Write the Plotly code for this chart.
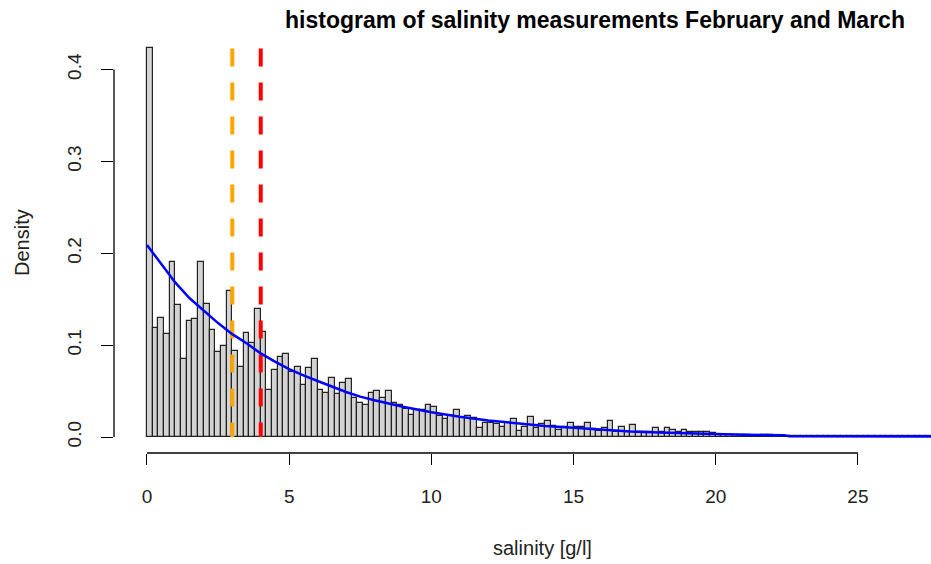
import plotly.graph_objects as go

# ---- data ----
bin_width = 0.2
density = [
    0.423, 0.119, 0.130, 0.112, 0.191, 0.144, 0.085, 0.126, 0.128, 0.191,
    0.145, 0.116, 0.093, 0.099, 0.159, 0.094, 0.076, 0.113, 0.102, 0.139,
    0.114, 0.051, 0.073, 0.087, 0.090, 0.071, 0.076, 0.057, 0.075, 0.085,
    0.051, 0.048, 0.064, 0.047, 0.059, 0.063, 0.042, 0.037, 0.035, 0.048,
    0.050, 0.043, 0.050, 0.037, 0.035, 0.031, 0.024, 0.029, 0.029, 0.035,
    0.033, 0.023, 0.020, 0.023, 0.029, 0.021, 0.023, 0.021, 0.010, 0.015,
    0.015, 0.014, 0.011, 0.015, 0.020, 0.007, 0.011, 0.022, 0.010, 0.014,
    0.017, 0.012, 0.008, 0.011, 0.015, 0.011, 0.011, 0.015, 0.009, 0.007,
    0.010, 0.017, 0.005, 0.011, 0.005, 0.013, 0.005, 0.005, 0.005, 0.010,
    0.005, 0.010, 0.008, 0.005, 0.008, 0.005, 0.005, 0.005, 0.005, 0.004,
    0.002, 0.002, 0.002, 0.002, 0.002, 0.002, 0.001, 0.001, 0.002, 0.002,
    0.0007, 0.0007, 0.0007, 0.0007, 0.0007, 0.0007, 0.0007, 0.0007, 0.0007, 0.0007,
    0.0007, 0.0007, 0.0007, 0.0007, 0.0007, 0.0007, 0.0007, 0.0007, 0.0007, 0.0007,
    0.0007, 0.0007, 0.0007, 0.0007, 0.0007, 0.0007, 0.0007, 0.0007,
]
bin_left = [round(i * bin_width, 1) for i in range(len(density))]

curve_x = [0, 0.5, 1, 1.5, 2, 2.5, 3, 3.5, 4, 4.5, 5, 5.5, 6, 6.5, 7, 7.5, 8,
           9, 10, 11, 12, 13, 14, 15, 16, 17, 18, 19, 20, 21, 22.4, 22.6, 27.6]
curve_y = [0.209, 0.188, 0.168, 0.151, 0.137, 0.124, 0.112, 0.102, 0.091,
           0.082, 0.074, 0.067, 0.061, 0.055, 0.049, 0.044, 0.040, 0.033,
           0.027, 0.022, 0.018, 0.015, 0.012, 0.010, 0.008, 0.006, 0.005,
           0.004, 0.003, 0.0025, 0.002, 0.0008, 0.0005]

median_x = 3.0
mean_x = 4.0
x_ticks = [0, 5, 10, 15, 20, 25]
y_ticks = [0.0, 0.1, 0.2, 0.3, 0.4]
y_tick_text = ["0.0", "0.1", "0.2", "0.3", "0.4"]

FONT = "Liberation Sans, Arial, sans-serif"
W, H = 931, 564
ML, MR, MT, MB = 114, 0, 33, 111

fig = go.Figure()
fig.add_trace(go.Bar(
    x=bin_left, y=density, width=bin_width, offset=0,
    marker=dict(color="#D3D3D3", line=dict(color="#222222", width=1.2)),
    showlegend=False, hoverinfo="skip",
))
top = max(density)
fig.add_trace(go.Scatter(x=[median_x, median_x], y=[top, 0], mode="lines",
                         line=dict(color="#FFA500", width=4, dash="18px,16px"),
                         showlegend=False, hoverinfo="skip"))
fig.add_trace(go.Scatter(x=[mean_x, mean_x], y=[top, 0], mode="lines",
                         line=dict(color="#FF0000", width=4, dash="18px,16px"),
                         showlegend=False, hoverinfo="skip"))
fig.add_trace(go.Scatter(x=curve_x, y=curve_y, mode="lines",
                         line=dict(color="#0000FF", width=2.5),
                         showlegend=False, hoverinfo="skip"))

# R-style axis lines spanning first to last tick
fig.add_shape(type="line", xref="x", yref="paper", x0=x_ticks[0], x1=x_ticks[-1],
              y0=0, y1=0, line=dict(color="black", width=1.3))
fig.add_shape(type="line", xref="paper", yref="y", x0=0, x1=0,
              y0=y_ticks[0], y1=y_ticks[-1], line=dict(color="black", width=1.3))

# axis titles as annotations
fig.add_annotation(text="salinity [g/l]", xref="paper", yref="paper",
                   x=(542 - ML) / (W - ML - MR), y=-(548 - (H - MB)) / (H - MT - MB),
                   xanchor="center", yanchor="middle", showarrow=False,
                   font=dict(family=FONT, size=20, color="#222222"))
fig.add_annotation(text="Density", xref="paper", yref="paper",
                   x=-(ML - 22) / (W - ML - MR), y=0.5, textangle=-90,
                   xanchor="center", yanchor="middle", showarrow=False,
                   font=dict(family=FONT, size=20, color="#222222"))

fig.update_layout(
    width=W, height=H,
    margin=dict(l=ML, r=MR, t=MT, b=MB),
    paper_bgcolor="white", plot_bgcolor="white",
    bargap=0,
    font=dict(family=FONT, size=19, color="#222222"),
    title=dict(text="<b>histogram of salinity measurements February and March</b>",
               x=595 / W, xref="container", xanchor="center",
               y=1 - 20 / H, yref="container", yanchor="middle",
               font=dict(family=FONT, size=23, color="black")),
    xaxis=dict(range=[-1.16, 27.57], showgrid=False, zeroline=False, showline=False,
               automargin=False,
               tickmode="array", tickvals=x_ticks, ticks="outside", ticklen=11,
               tickwidth=1.3, tickcolor="black", ticklabelstandoff=15),
    yaxis=dict(range=[-0.0174, 0.4398], showgrid=False, zeroline=False, showline=False,
               automargin=False,
               tickmode="array", tickvals=y_ticks, ticktext=y_tick_text,
               ticks="outside", ticklen=12, tickwidth=1.3, tickcolor="black",
               tickangle=-90, ticklabelstandoff=12),
)

fig.write_html("out.html", config={"displayModeBar": False},
               post_script="document.body.style.margin='0';document.body.style.padding='0';")
